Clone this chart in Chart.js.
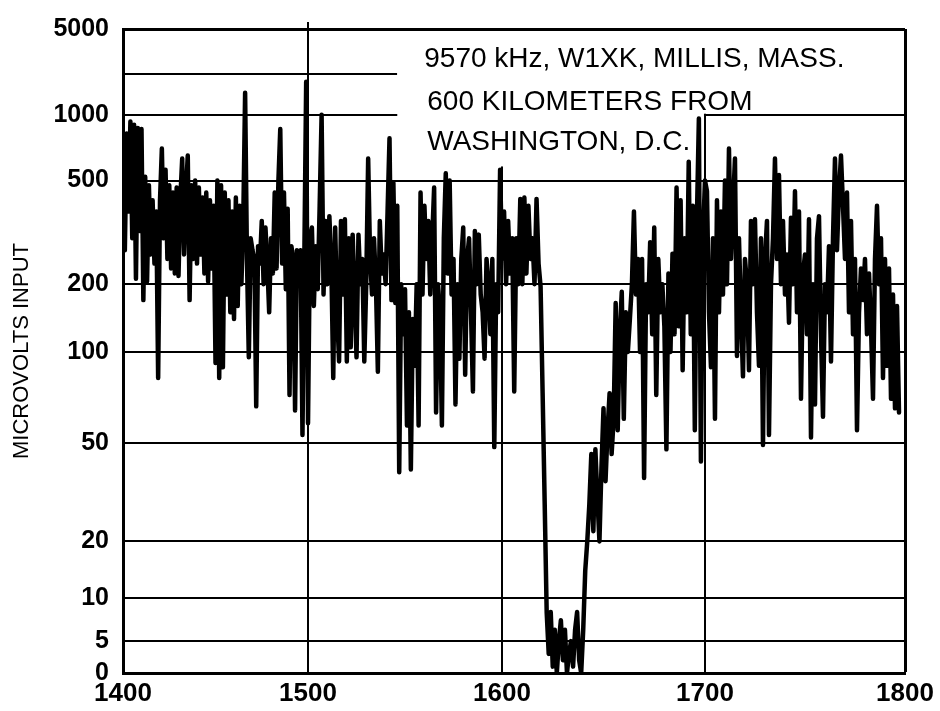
<!DOCTYPE html>
<html>
<head>
<meta charset="utf-8">
<title>9570 kHz field strength</title>
<script src="https://cdn.jsdelivr.net/npm/chart.js@4.4.1/dist/chart.umd.min.js"></script>
<style>
  html, body { margin: 0; padding: 0; background: #fff; }
  #wrap { width: 940px; height: 711px; }
</style>
</head>
<body>
<div id="wrap"><canvas id="fieldChart" width="940" height="711"></canvas></div>
<script>
// Recording frequency axis, kHz
const freqKHz = [
    1400, 1401, 1402, 1403, 1404, 1405, 1406, 1407, 1408, 1409,
    1410, 1411, 1412, 1413, 1414, 1415, 1416, 1417, 1418, 1419,
    1420, 1421, 1422, 1423, 1424, 1425, 1426, 1427, 1428, 1429,
    1430, 1431, 1432, 1433, 1434, 1435, 1436, 1437, 1438, 1439,
    1440, 1441, 1442, 1443, 1444, 1445, 1446, 1447, 1448, 1449,
    1450, 1451, 1452, 1453, 1454, 1455, 1456, 1457, 1458, 1459,
    1460, 1461, 1462, 1463, 1464, 1465, 1466, 1467, 1468, 1469,
    1470, 1471, 1472, 1473, 1474, 1475, 1476, 1477, 1478, 1479,
    1480, 1481, 1482, 1483, 1484, 1485, 1486, 1487, 1488, 1489,
    1490, 1491, 1492, 1493, 1494, 1495, 1496, 1497, 1498, 1499,
    1500, 1501, 1502, 1503, 1504, 1505, 1506, 1507, 1508, 1509,
    1510, 1511, 1512, 1513, 1514, 1515, 1516, 1517, 1518, 1519,
    1520, 1521, 1522, 1523, 1524, 1525, 1526, 1527, 1528, 1529,
    1530, 1531, 1532, 1533, 1534, 1535, 1536, 1537, 1538, 1539,
    1540, 1541, 1542, 1543, 1544, 1545, 1546, 1547, 1548, 1549,
    1550, 1551, 1552, 1553, 1554, 1555, 1556, 1557, 1558, 1559,
    1560, 1561, 1562, 1563, 1564, 1565, 1566, 1567, 1568, 1569,
    1570, 1571, 1572, 1573, 1574, 1575, 1576, 1577, 1578, 1579,
    1580, 1581, 1582, 1583, 1584, 1585, 1586, 1587, 1588, 1589,
    1590, 1591, 1592, 1593, 1594, 1595, 1596, 1597, 1598, 1599,
    1600, 1601, 1602, 1603, 1604, 1605, 1606, 1607, 1608, 1609,
    1610, 1611, 1612, 1613, 1614, 1615, 1616, 1617, 1618, 1619,
    1620, 1621, 1622, 1623, 1624, 1625, 1626, 1627, 1628, 1629,
    1630, 1631, 1632, 1633, 1634, 1635, 1636, 1637, 1638, 1639,
    1640, 1641, 1642, 1643, 1644, 1645, 1646, 1647, 1648, 1649,
    1650, 1651, 1652, 1653, 1654, 1655, 1656, 1657, 1658, 1659,
    1660, 1661, 1662, 1663, 1664, 1665, 1666, 1667, 1668, 1669,
    1670, 1671, 1672, 1673, 1674, 1675, 1676, 1677, 1678, 1679,
    1680, 1681, 1682, 1683, 1684, 1685, 1686, 1687, 1688, 1689,
    1690, 1691, 1692, 1693, 1694, 1695, 1696, 1697, 1698, 1699,
    1700, 1701, 1702, 1703, 1704, 1705, 1706, 1707, 1708, 1709,
    1710, 1711, 1712, 1713, 1714, 1715, 1716, 1717, 1718, 1719,
    1720, 1721, 1722, 1723, 1724, 1725, 1726, 1727, 1728, 1729,
    1730, 1731, 1732, 1733, 1734, 1735, 1736, 1737, 1738, 1739,
    1740, 1741, 1742, 1743, 1744, 1745, 1746, 1747, 1748, 1749,
    1750, 1751, 1752, 1753, 1754, 1755, 1756, 1757, 1758, 1759,
    1760, 1761, 1762, 1763, 1764, 1765, 1766, 1767, 1768, 1769,
    1770, 1771, 1772, 1773, 1774, 1775, 1776, 1777, 1778, 1779,
    1780, 1781, 1782, 1783, 1784, 1785, 1786, 1787, 1788, 1789,
    1790, 1791, 1792, 1793, 1794, 1795, 1796, 1797
];

// Receiver input, microvolts, one reading per kHz
const microvolts = [
    720, 270, 820, 380, 930, 300, 900, 210, 870, 320,
    860, 170, 520, 205, 480, 260, 420, 240, 380, 82,
    420, 700, 300, 560, 250, 480, 230, 450, 220, 470,
    215, 430, 630, 260, 450, 650, 170, 480, 250, 500,
    240, 470, 260, 430, 220, 450, 205, 420, 230, 400,
    92, 500, 82, 480, 89, 450, 180, 420, 150, 380,
    140, 430, 160, 400, 200, 350, 1450, 250, 96, 300,
    270, 250, 66, 280, 240, 350, 200, 330, 240, 150,
    300, 220, 450, 230, 500, 860, 240, 450, 190, 390,
    72, 280, 250, 64, 270, 240, 270, 53, 250, 1750,
    58, 300, 330, 160, 280, 190, 400, 1000, 180, 350,
    200, 365, 240, 82, 330, 150, 93, 350, 180, 355,
    93, 300, 105, 310, 180, 96, 310, 200, 250, 93,
    200, 630, 250, 180, 300, 200, 86, 350, 220, 260,
    200, 380, 780, 170, 490, 165, 400, 38, 200, 120,
    190, 57, 150, 39, 140, 90, 200, 57, 450, 180,
    400, 250, 350, 180, 300, 470, 63, 200, 150, 57,
    300, 540, 220, 500, 180, 250, 67, 200, 95, 250,
    330, 84, 250, 300, 150, 74, 320, 200, 310, 180,
    150, 95, 250, 200, 120, 250, 48, 200, 150, 560,
    250, 380, 200, 350, 220, 300, 74, 300, 200, 425,
    200, 430, 220, 400, 250, 300, 200, 425, 240, 195,
    73, 29, 8, 3, 8, 1, 6, 0, 5, 7,
    2, 6, 0, 3, 5, 1, 6, 8, 2, 0,
    6, 14, 20, 28, 45, 22, 47, 30, 20, 40,
    65, 35, 55, 73, 45, 60, 165, 55, 120, 185,
    60, 150, 100, 140, 200, 380, 180, 250, 100, 250,
    36, 200, 150, 290, 120, 330, 72, 250, 150, 200,
    130, 47, 220, 100, 262, 120, 470, 130, 420, 87,
    300, 150, 610, 120, 400, 55, 350, 960, 42, 300,
    500, 455, 150, 89, 300, 60, 420, 150, 380, 180,
    500, 200, 700, 250, 400, 630, 97, 300, 150, 83,
    250, 200, 87, 350, 200, 355, 150, 90, 300, 49,
    250, 350, 53, 200, 300, 630, 250, 530, 200, 350,
    180, 260, 135, 360, 200, 455, 150, 380, 70, 220,
    260, 120, 355, 52, 200, 67, 300, 365, 120, 61,
    200, 150, 280, 93, 300, 630, 270, 450, 650, 400,
    250, 450, 150, 350, 120, 250, 55, 150, 230, 170,
    250, 120, 220, 130, 70, 250, 400, 200, 300, 82,
    250, 90, 230, 70, 180, 65, 160, 63
];

const xTicks = [1400, 1500, 1600, 1700, 1800];
const yTicks = [0, 5, 10, 20, 50, 100, 200, 500, 1000, 2000, 5000];
const yTickLabels = ['0', '5', '10', '20', '50', '100', '200', '500', '1000', '', '5000'];
const noteLines = ['9570 kHz, W1XK, MILLIS, MASS.', '600 KILOMETERS FROM', 'WASHINGTON, D.C.'];

// The printed graph paper is not evenly ruled: where each ruled value sits
// along its axis (0 = start, 1 = end)
const xTickPos = [0, 0.2366, 0.4847, 0.7442, 1];
const yTickPos = [0, 0.0495, 0.1161, 0.2043, 0.3576, 0.4985, 0.6037, 0.7647, 0.8669, 0.9303, 1];

const FONT = '"Liberation Sans", Arial, Helvetica, sans-serif';

// Linear scale whose ticks are fixed rulings; values between two rulings are
// placed linearly or logarithmically between them
class RuledScale extends Chart.LinearScale {
    static id = 'ruled';

    buildTicks() {
        return this.options.rulings.map(v => ({ value: v }));
    }

    toDecimal(value) {
        const r = this.options.rulings;
        const p = this.options.rulingPos;
        if (value <= r[0]) return p[0];
        for (let i = 1; i < r.length; i++) {
            if (value <= r[i]) {
                const a = r[i - 1], b = r[i];
                const t = (this.options.logBetween && a > 0)
                    ? Math.log(value / a) / Math.log(b / a)
                    : (value - a) / (b - a);
                return p[i - 1] + t * (p[i] - p[i - 1]);
            }
        }
        return p[p.length - 1];
    }

    getPixelForValue(value) {
        return this.getPixelForDecimal(this.toDecimal(value));
    }

    getValueForPixel(pixel) {
        const d = this.getDecimalForPixel(pixel);
        const r = this.options.rulings;
        const p = this.options.rulingPos;
        for (let i = 1; i < r.length; i++) {
            if (d <= p[i]) {
                const t = (d - p[i - 1]) / (p[i] - p[i - 1]);
                const a = r[i - 1], b = r[i];
                return (this.options.logBetween && a > 0) ? a * Math.pow(b / a, t) : a + t * (b - a);
            }
        }
        return r[r.length - 1];
    }
}
Chart.register(RuledScale);

// White label panel over the upper ruling, then the station caption
const captionPanel = {
    id: 'captionPanel',
    beforeDatasetsDraw(chart) {
        const { ctx, chartArea, scales: { x, y } } = chart;
        const left = x.getPixelForValue(1546);
        const corner = x.getPixelForValue(1700);
        ctx.save();
        ctx.fillStyle = '#fff';
        ctx.fillRect(left, chartArea.top + 2, chartArea.right - 1 - left, y.getPixelForValue(1000) - 1 - chartArea.top - 2);
        ctx.fillRect(left, chartArea.top + 2, corner - 1 - left, y.getPixelForValue(580) - chartArea.top - 2);
        ctx.restore();
    },
    afterDatasetsDraw(chart) {
        const { ctx, chartArea, scales: { x } } = chart;
        const left = x.getPixelForValue(1546);
        const x1500 = Math.round(x.getPixelForValue(1500));
        ctx.save();
        // the 1500 kHz ruling runs a little past the top edge
        ctx.strokeStyle = '#000';
        ctx.lineWidth = 2;
        ctx.beginPath();
        ctx.moveTo(x1500, chartArea.top);
        ctx.lineTo(x1500, chartArea.top - 7);
        ctx.stroke();

        ctx.fillStyle = '#000';
        ctx.font = '28px ' + FONT;
        ctx.textBaseline = 'middle';
        ctx.textAlign = 'left';
        ctx.fillText(noteLines[0], left + 27, chartArea.top + 30);
        ctx.fillText(noteLines[1], left + 30, chartArea.top + 73);
        ctx.fillText(noteLines[2], left + 30, chartArea.top + 113);
        ctx.restore();
    }
};

const tracePoints = freqKHz.map((f, i) => ({ x: f, y: microvolts[i] }));

new Chart(document.getElementById('fieldChart'), {
    type: 'line',
    data: {
        datasets: [{
            data: tracePoints,
            borderColor: '#000',
            borderWidth: 4.5,
            borderJoinStyle: 'round',
            borderCapStyle: 'round',
            pointRadius: 0,
            tension: 0,
            fill: false
        }]
    },
    options: {
        responsive: false,
        animation: false,
        devicePixelRatio: 1,
        layout: { padding: { top: 27, right: 35, bottom: 0, left: 0 } },
        plugins: {
            legend: { display: false },
            tooltip: { enabled: false }
        },
        scales: {
            x: {
                type: 'ruled',
                min: 1400,
                max: 1800,
                rulings: xTicks,
                rulingPos: xTickPos,
                logBetween: false,
                afterFit: scale => { scale.height = 38; },
                grid: {
                    color: '#000',
                    lineWidth: ctx => (ctx.tick && ctx.tick.value === 1800) ? 3 : 2,
                    drawTicks: false
                },
                border: { display: true, color: '#000', width: 3 },
                ticks: {
                    autoSkip: false,
                    maxRotation: 0,
                    padding: 5,
                    color: '#000',
                    font: { family: FONT, size: 26, weight: 'bold' },
                    callback: value => String(value)
                }
            },
            y: {
                type: 'ruled',
                min: 0,
                max: 5000,
                rulings: yTicks,
                rulingPos: yTickPos,
                logBetween: true,
                afterFit: scale => { scale.width = 123; },
                grid: {
                    color: '#000',
                    lineWidth: ctx => (ctx.tick && ctx.tick.value === 5000) ? 3 : 2,
                    drawTicks: false
                },
                border: { display: true, color: '#000', width: 3 },
                ticks: {
                    autoSkip: false,
                    padding: 14,
                    color: '#000',
                    font: { family: FONT, size: 25, weight: 'bold' },
                    callback: (value, i) => yTickLabels[i]
                },
                title: {
                    display: true,
                    text: 'MICROVOLTS INPUT',
                    color: '#000',
                    font: { family: FONT, size: 22 },
                    padding: { top: 9, bottom: 0 }
                }
            }
        }
    },
    plugins: [captionPanel]
});
</script>
</body>
</html>
